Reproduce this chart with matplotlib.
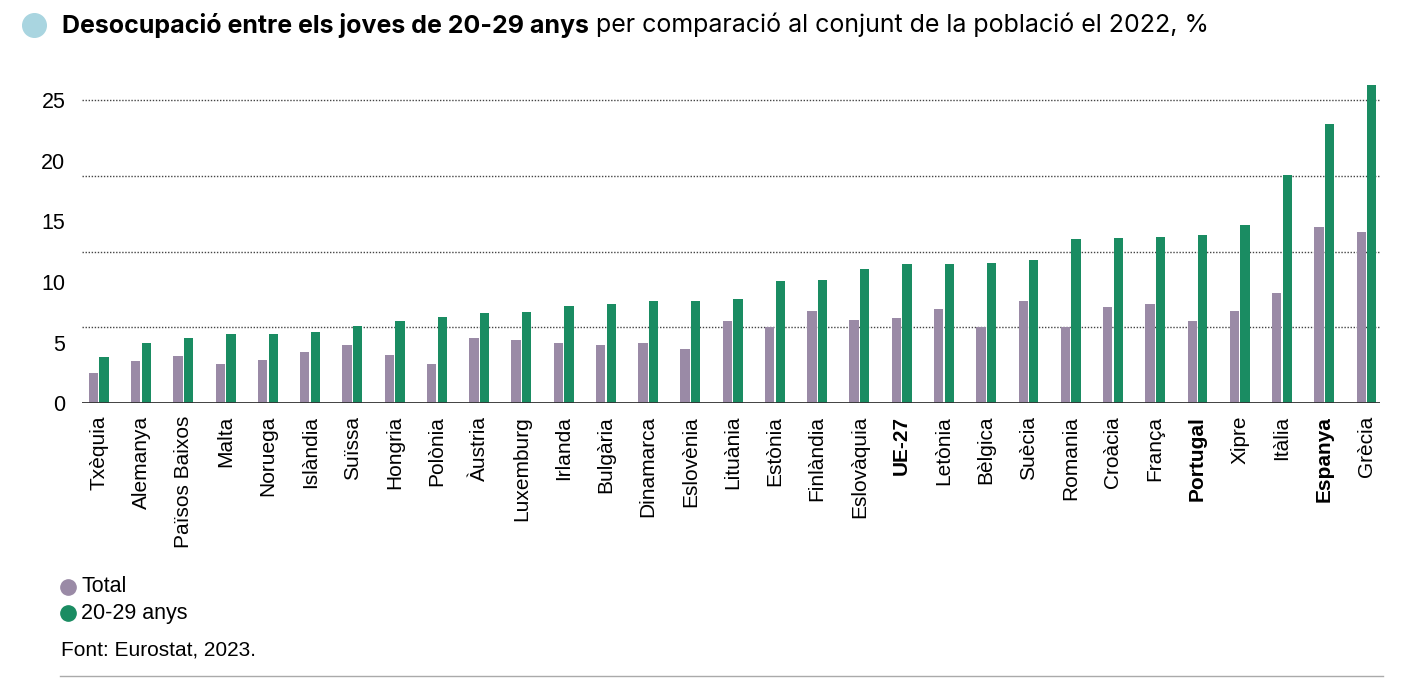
import numpy as np
import matplotlib
matplotlib.use("Agg")
import matplotlib.pyplot as plt
from matplotlib.lines import Line2D

# Data (% unemployment, 2022)
countries = ["Txèquia", "Alemanya", "Països Baixos", "Malta", "Noruega", "Islàndia",
             "Suïssa", "Hongria", "Polònia", "Àustria", "Luxemburg", "Irlanda",
             "Bulgària", "Dinamarca", "Eslovènia", "Lituània", "Estònia", "Finlàndia",
             "Eslovàquia", "UE-27", "Letònia", "Bèlgica", "Suècia", "Romania",
             "Croàcia", "França", "Portugal", "Xipre", "Itàlia", "Espanya", "Grècia"]
total = [2.5, 3.5, 3.9, 3.2, 3.6, 4.2, 4.8, 4.0, 3.2, 5.4, 5.2, 5.0,
         4.8, 5.0, 4.5, 6.8, 6.3, 7.6, 6.9, 7.0, 7.8, 6.3, 8.4, 6.3,
         7.9, 8.2, 6.8, 7.6, 9.1, 14.5, 14.1]
youth = [3.8, 5.0, 5.4, 5.7, 5.7, 5.9, 6.4, 6.8, 7.1, 7.4, 7.5, 8.0,
         8.2, 8.4, 8.4, 8.6, 10.1, 10.2, 11.1, 11.5, 11.5, 11.6, 11.8, 13.5,
         13.6, 13.7, 13.9, 14.7, 18.8, 23.0, 26.2]
bold_labels = ["UE-27", "Portugal", "Espanya"]
yticks = [0, 5, 10, 15, 20, 25]

c_total = "#9a8aa6"
c_youth = "#1a8c62"

fig = plt.figure(figsize=(14.01, 6.78), dpi=100)
ax = fig.add_axes([0.0585, 0.4052, 0.9265, 0.4742])

x = np.arange(len(countries))
w = 0.22
ax.bar(x - 0.125, total, width=w, color=c_total)
ax.bar(x + 0.125, youth, width=w, color=c_youth)

ax.set_xlim(-0.40, 30.32)
ax.set_ylim(0, 26.5)

# dotted gridlines (the original spaces them in quarters of 25)
for g in [6.25, 12.5, 18.75, 25]:
    ax.axhline(g, color="#444444", lw=1.0, ls=(0, (1, 1.2)), zorder=0)
ax.axhline(0, color="#333333", lw=1.3, zorder=3)

for s in ax.spines.values():
    s.set_visible(False)

ax.set_yticks(yticks)
ax.set_yticklabels([str(t) for t in yticks], fontsize=15.5, family="Liberation Sans")
ax.tick_params(axis="y", length=0, pad=12)
ax.set_xticks(x)
ax.set_xticklabels(countries, rotation=90, fontsize=15, family="Liberation Sans",
                   va="top", ha="center")
ax.tick_params(axis="x", length=0, pad=9)
for lab in ax.get_xticklabels():
    if lab.get_text() in bold_labels:
        lab.set_fontweight("bold")

# title with circle bullet
fig.add_artist(Line2D([34 / 1401], [1 - 25 / 678], transform=fig.transFigure,
                      marker="o", markersize=17, color="#a9d5e0", lw=0))
t1 = fig.text(62 / 1401, 1 - 25 / 678, "Desocupació entre els joves de 20-29 anys",
              fontsize=18, fontweight="bold", family="Inter", va="center")
fig.canvas.draw()
bb = t1.get_window_extent()
fig.text(bb.x1 / 1401 + 0.005, 1 - 25 / 678,
         "per comparació al conjunt de la població el 2022, %",
         fontsize=18, family="Inter", va="center")

# legend
for yy, col, lab in [(587, c_total, "Total"), (613, c_youth, "20-29 anys")]:
    fig.add_artist(Line2D([68 / 1401], [1 - yy / 678], transform=fig.transFigure,
                          marker="o", markersize=11, color=col, lw=0))
    fig.text(81 / 1401, 1 - yy / 678, lab, fontsize=15.5, family="Liberation Sans",
             va="center")

fig.text(61 / 1401, 1 - 650 / 678, "Font: Eurostat, 2023.", fontsize=15,
         family="Liberation Sans", va="center")
fig.add_artist(Line2D([60 / 1401, 1383 / 1401], [1 - 676 / 678] * 2,
                      transform=fig.transFigure, color="#aaaaaa", lw=1))

fig.savefig("out.png", dpi=100)
